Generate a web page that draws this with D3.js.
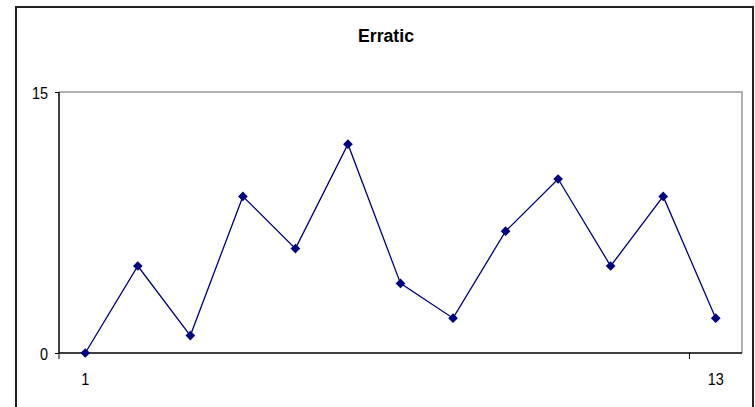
<!DOCTYPE html>
<html>
<head>
<meta charset="utf-8">
<script src="https://cdn.jsdelivr.net/npm/d3@7"></script>
<style>
  html, body { margin: 0; padding: 0; background: #fff; }
  svg { display: block; font-family: Arial, "Liberation Sans", sans-serif; }
</style>
</head>
<body>
<svg id="chart" width="755" height="407"></svg>
<script>
// Series data
const categories = [1, 2, 3, 4, 5, 6, 7, 8, 9, 10, 11, 12, 13];
const values = [0, 5, 1, 9, 6, 12, 4, 2, 7, 10, 5, 9, 2];
const xTickLabels = [1, 13];
const yTickValues = [0, 15];
const title = "Erratic";

const svg = d3.select("#chart");
const FONT = "Arial, 'Liberation Sans', sans-serif";

// Chart frame
svg.append("rect")
  .attr("x", 16).attr("y", 7)
  .attr("width", 737).attr("height", 420)
  .attr("fill", "#fff")
  .attr("stroke", "#222").attr("stroke-width", 2);

const plot = { left: 59, right: 742, top: 92, bottom: 353 };

const x = d3.scaleBand()
  .domain(categories)
  .range([plot.left, plot.right])
  .paddingInner(0).paddingOuter(0);

const y = d3.scaleLinear()
  .domain([0, 15])
  .range([plot.bottom, plot.top]);

// Plot area border (top and right in grey)
svg.append("path")
  .attr("d", `M${plot.left},${plot.top}H${plot.right}V${plot.bottom}`)
  .attr("fill", "none")
  .attr("stroke", "#999").attr("stroke-width", 1.5);

// Title (slightly condensed)
svg.append("text")
  .attr("transform", "translate(386,42) scale(0.93,1)")
  .attr("text-anchor", "middle")
  .attr("font-weight", "bold")
  .attr("font-size", 19)
  .attr("font-family", FONT)
  .text(title);

// Y axis
const yAxis = d3.axisLeft(y)
  .tickValues(yTickValues)
  .tickSize(4)
  .tickPadding(0)
  .tickFormat(d3.format("d"));
const gy = svg.append("g")
  .attr("transform", `translate(${plot.left},0)`)
  .call(yAxis);
gy.select(".domain").attr("stroke", "#000").attr("stroke-width", 1.5)
  .attr("d", `M0,${plot.top}V${plot.bottom}`);
gy.selectAll(".tick line").attr("stroke", "#000");
gy.selectAll(".tick text")
  .attr("x", null).attr("dy", null)
  .attr("transform", "translate(-11,6) scale(0.9,1)")
  .attr("font-size", 16).attr("fill", "#000")
  .attr("font-family", FONT);

// X axis: ticks on category boundaries every 12 categories, labels on categories
const gx = svg.append("g")
  .attr("transform", `translate(0,${plot.bottom})`);
gx.append("line")
  .attr("x1", plot.left).attr("x2", plot.right)
  .attr("stroke", "#000").attr("stroke-width", 1.5);
const boundaryTicks = [0, 12].map(i => x(categories[i]));
gx.selectAll("line.tick")
  .data(boundaryTicks)
  .enter().append("line")
  .attr("class", "tick")
  .attr("x1", d => d).attr("x2", d => d)
  .attr("y1", 0).attr("y2", 6)
  .attr("stroke", "#000").attr("stroke-width", 1);
gx.selectAll("text")
  .data(xTickLabels)
  .enter().append("text")
  .attr("transform", d => `translate(${x(d) + x.bandwidth() / 2},32) scale(0.85,1)`)
  .attr("text-anchor", "middle")
  .attr("font-size", 17)
  .attr("font-family", FONT)
  .text(d => d);

// Line
const line = d3.line()
  .x((d, i) => x(categories[i]) + x.bandwidth() / 2)
  .y(d => y(d));
svg.append("path")
  .datum(values)
  .attr("d", line)
  .attr("fill", "none")
  .attr("stroke", "#000080")
  .attr("stroke-width", 1.3);

// Diamond markers
svg.selectAll("path.marker")
  .data(values)
  .enter().append("path")
  .attr("class", "marker")
  .attr("d", d3.symbol().type(d3.symbolDiamond2).size(60))
  .attr("transform", (d, i) => `translate(${x(categories[i]) + x.bandwidth() / 2},${y(d)})`)
  .attr("fill", "#000080");
</script>
</body>
</html>
